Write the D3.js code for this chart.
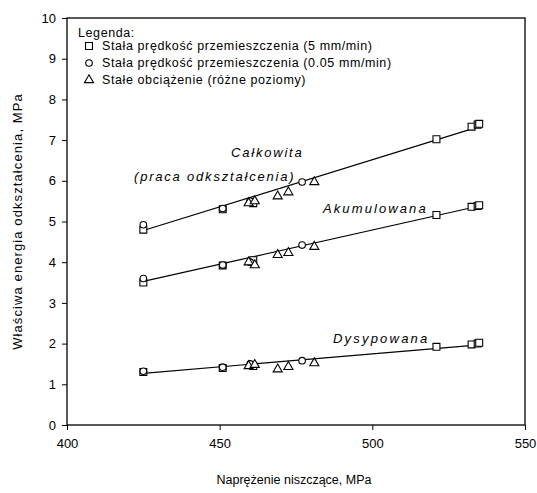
<!DOCTYPE html>
<meta charset="utf-8">
<style>
body { margin: 0; background: #fff; }
text { font-family: "Liberation Sans", Arial, sans-serif; fill: #000; }
.axis text { font-size: 13px; }
.axis path, .axis line { stroke: #000; }
</style>
<svg width="537" height="493"></svg>
<script src="https://cdn.jsdelivr.net/npm/d3@7"></script>
<script>

// stress (MPa) for each test group
var sqX  = [425, 451, 461, 521, 532.5, 534.5, 535];
var cirX = [425, 451, 460, 477];
var triX = [459.5, 461.5, 469, 472.5, 481];

// specific energy (MPa): total, accumulated, dissipated
var sqTot  = [4.8, 5.3, 5.45, 7.02, 7.33, 7.38, 7.4];
var sqAcc  = [3.5, 3.92, 4.05, 5.16, 5.36, 5.38, 5.4];
var sqDis  = [1.3, 1.4, 1.45, 1.92, 1.98, 2.0, 2.02];
var cirTot = [4.92, 5.32, 5.5, 5.97];
var cirAcc = [3.6, 3.93, 4.0, 4.42];
var cirDis = [1.32, 1.42, 1.5, 1.58];
var triTot = [5.45, 5.5, 5.62, 5.72, 5.97];
var triAcc = [4.0, 3.93, 4.18, 4.23, 4.38];
var triDis = [1.45, 1.48, 1.37, 1.43, 1.52];

// trend lines (end points)
var fitX   = [425, 535];
var fitTot = [4.78, 7.33];
var fitAcc = [3.53, 5.38];
var fitDis = [1.27, 1.97];

var xTicks = [400, 450, 500, 550];
var yTicks = [0, 1, 2, 3, 4, 5, 6, 7, 8, 9, 10];

var legendLabels = [
  "Stała prędkość przemieszczenia (5 mm/min)",
  "Stała prędkość przemieszczenia (0.05 mm/min)",
  "Stałe obciążenie (różne poziomy)"
];

var svg = d3.select("svg");
var m = {left: 67, top: 18, right: 12, bottom: 68};
var w = 537 - m.left - m.right, h = 493 - m.top - m.bottom;

var x = d3.scaleLinear().domain([400, 550]).range([0, w]);
var y = d3.scaleLinear().domain([0, 10]).range([h, 0]);

var g = svg.append("g").attr("transform", "translate(" + m.left + "," + m.top + ")");

g.append("rect").attr("width", w).attr("height", h)
  .attr("fill", "none").attr("stroke", "#000").attr("stroke-width", 1.3);

g.append("g").attr("class", "axis").attr("transform", "translate(0," + h + ")")
  .call(d3.axisBottom(x).tickValues(xTicks).tickSize(5).tickPadding(9))
  .call(function(s) { s.select(".domain").remove(); });

g.append("g").attr("class", "axis")
  .call(d3.axisLeft(y).tickValues(yTicks).tickSize(5).tickPadding(6))
  .call(function(s) { s.select(".domain").remove(); });

// trend lines
var line = d3.line().x(function(d) { return x(d[0]); }).y(function(d) { return y(d[1]); });
[fitTot, fitAcc, fitDis].forEach(function(f) {
  g.append("path").datum(d3.zip(fitX, f)).attr("d", line)
    .attr("fill", "none").attr("stroke", "#000").attr("stroke-width", 1.2);
});

var sym = {
  sq: d3.symbol().type(d3.symbolSquare).size(48),
  cir: d3.symbol().type(d3.symbolCircle).size(34),
  tri: d3.symbol().type(d3.symbolTriangle).size(36)
};

function marks(xs, ys, type) {
  g.append("g").selectAll("path").data(d3.zip(xs, ys)).enter().append("path")
    .attr("transform", function(d) { return "translate(" + x(d[0]) + "," + y(d[1]) + ")"; })
    .attr("d", sym[type]())
    .attr("fill", "#fff").attr("stroke", "#000").attr("stroke-width", 1.1);
}
marks(sqX, sqTot, "sq"); marks(sqX, sqAcc, "sq"); marks(sqX, sqDis, "sq");
marks(cirX, cirTot, "cir"); marks(cirX, cirAcc, "cir"); marks(cirX, cirDis, "cir");
marks(triX, triTot, "tri"); marks(triX, triAcc, "tri"); marks(triX, triDis, "tri");

// curve labels
var lab = g.append("g").attr("font-style", "italic").attr("font-size", 13).attr("letter-spacing", 1.8);
lab.append("text").attr("x", 164).attr("y", 139).text("Całkowita");
lab.append("text").attr("x", 67).attr("y", 163).text("(praca odkształcenia)");
lab.append("text").attr("x", 256).attr("y", 195).attr("letter-spacing", 2.1).text("Akumulowana");
lab.append("text").attr("x", 266).attr("y", 325).attr("letter-spacing", 2.2).text("Dysypowana");

// legend
var lg = g.append("g").attr("font-size", 12.5).attr("letter-spacing", 0.6);
lg.append("text").attr("x", 11).attr("y", 19).text("Legenda:");
var types = ["sq", "cir", "tri"];
legendLabels.forEach(function(t, i) {
  var yy = 28 + i * 17;
  lg.append("path").attr("transform", "translate(22," + yy + ")").attr("d", sym[types[i]]())
    .attr("fill", "#fff").attr("stroke", "#000").attr("stroke-width", 1.1);
  lg.append("text").attr("x", 35).attr("y", yy + 4).text(t);
});

// axis titles
svg.append("text").attr("x", m.left + w / 2 - 2).attr("y", 484).attr("text-anchor", "middle")
  .attr("font-size", 12.5).text("Naprężenie niszczące, MPa");
svg.append("text").attr("transform", "translate(22," + (m.top + h / 2) + ") rotate(-90)")
  .attr("text-anchor", "middle").attr("font-size", 13).attr("letter-spacing", 1.1)
  .text("Właściwa energia odkształcenia, MPa");

</script>
